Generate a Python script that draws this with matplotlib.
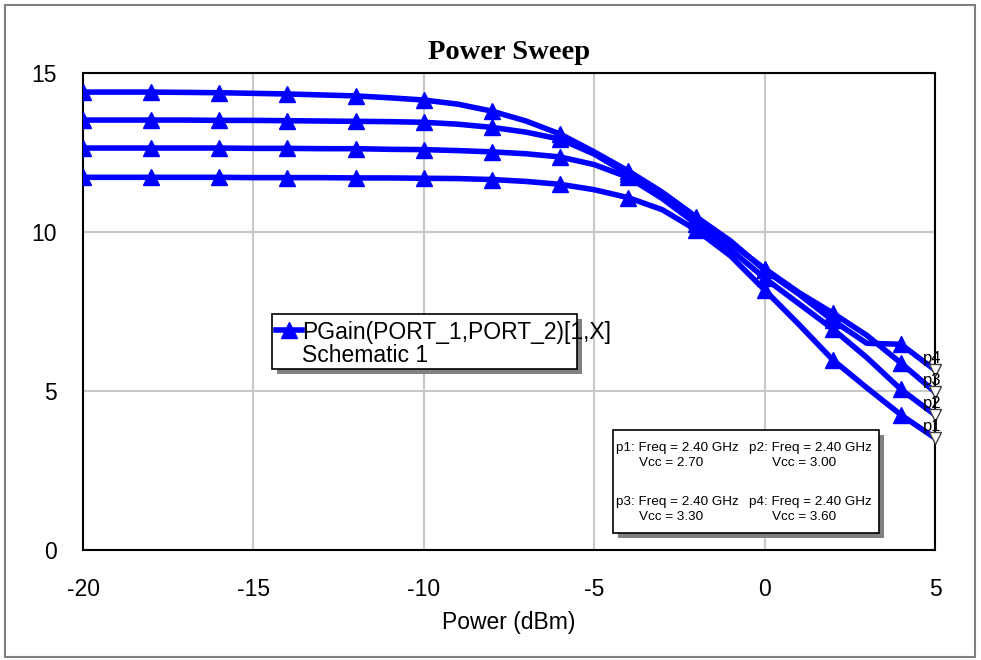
import numpy as np
import matplotlib.pyplot as plt
from matplotlib.patches import Rectangle
from matplotlib.lines import Line2D

plt.rcParams['font.family'] = ['Liberation Sans', 'DejaVu Sans']
plt.rcParams['axes.unicode_minus'] = False

# power sweep, 1 dB steps
power = np.arange(-20, 6)

gain_p1 = [11.72, 11.72, 11.72, 11.72, 11.72, 11.71, 11.71, 11.71, 11.70, 11.70,
           11.69, 11.68, 11.65, 11.59, 11.50, 11.33, 11.08, 10.70, 10.06, 9.25,
           8.18, 7.10, 5.98, 5.10, 4.25, 3.52]
gain_p2 = [12.64, 12.64, 12.64, 12.64, 12.64, 12.63, 12.63, 12.62, 12.62, 12.60,
           12.59, 12.56, 12.52, 12.46, 12.36, 12.12, 11.72, 11.05, 10.25, 9.45,
           8.55, 7.75, 6.95, 6.05, 5.05, 4.25]
gain_p3 = [13.52, 13.52, 13.52, 13.52, 13.51, 13.51, 13.50, 13.49, 13.48, 13.47,
           13.45, 13.39, 13.29, 13.14, 12.92, 12.45, 11.82, 11.15, 10.38, 9.65,
           8.85, 8.10, 7.45, 6.75, 5.88, 4.97]
gain_p4 = [14.40, 14.40, 14.40, 14.39, 14.38, 14.36, 14.34, 14.31, 14.28, 14.22,
           14.15, 14.02, 13.80, 13.49, 13.08, 12.52, 11.92, 11.25, 10.47, 9.72,
           8.80, 8.05, 7.22, 6.50, 6.47, 5.66]

curves = [gain_p1, gain_p2, gain_p3, gain_p4]
curve_names = ['p1', 'p2', 'p3', 'p4']
freq = ['2.40', '2.40', '2.40', '2.40']
vcc = ['2.70', '3.00', '3.30', '3.60']

xticks = [-20, -15, -10, -5, 0, 5]
yticks = [0, 5, 10, 15]

W, H = 981, 660
fig = plt.figure(figsize=(W / 100, H / 100), dpi=100)
fig.patch.set_facecolor('white')


def fx(x):
    return x / W


def fy(y):
    return 1 - y / H


ax = fig.add_axes([fx(83), fy(550), (935 - 83) / W, (550 - 73) / H])

blue = '#0000ff'
for g, name in zip(curves, curve_names):
    ax.plot(power, g, color=blue, lw=4, marker='^', ms=12,
            markevery=slice(0, 25, 2), mec=blue, mfc=blue, zorder=3)
    ax.plot(power[-1], g[-1], marker='v', ms=8, mfc='white', mec='#404040',
            mew=1.0, clip_on=False, zorder=4)
    ax.annotate(name, (power[-1], g[-1]), xytext=(-2, 8), textcoords='offset points',
                ha='center', va='center', fontsize=12, annotation_clip=False, zorder=5)

ax.set_xlim(-20, 5)
ax.set_ylim(0, 15)
ax.set_xticks(xticks)
ax.set_yticks(yticks)
ax.tick_params(length=0, labelsize=16.5)
ax.tick_params(axis='x', pad=20)
ax.tick_params(axis='y', pad=19)
ax.grid(True, color='#c8c8c8', lw=1.5)
ax.set_axisbelow(True)
for s in ax.spines.values():
    s.set_linewidth(1.5)
    s.set_color('black')

ax.set_xlabel('Power (dBm)', fontsize=16.5, labelpad=7)
ax.set_title('Power Sweep', fontsize=20.5, fontweight='bold',
             family=['Liberation Serif', 'DejaVu Serif'], pad=10)


def box(x0, y0, x1, y1, shadow=5):
    fig.add_artist(Rectangle((fx(x0 + shadow), fy(y1 + shadow)), (x1 - x0) / W, (y1 - y0) / H,
                             transform=fig.transFigure, facecolor='#808080',
                             edgecolor='none', zorder=2))
    fig.add_artist(Rectangle((fx(x0), fy(y1)), (x1 - x0) / W, (y1 - y0) / H,
                             transform=fig.transFigure, facecolor='white',
                             edgecolor='black', lw=1.2, zorder=3))


# legend
box(272, 314, 577, 369)
fig.add_artist(Line2D([fx(276), fx(302)], [fy(330), fy(330)], transform=fig.transFigure,
                      color=blue, lw=4, zorder=4))
fig.add_artist(Line2D([fx(289)], [fy(330)], transform=fig.transFigure,
                      color=blue, marker='^', ms=12, zorder=4))
fig.text(fx(302), fy(332), 'PGain(PORT_1,PORT_2)[1,X]', fontsize=16.5,
         va='center', ha='left', zorder=5)
fig.text(fx(302), fy(355), 'Schematic 1', fontsize=16.5, va='center', ha='left', zorder=5)

# sweep parameter box
box(613, 430, 879, 533)
col_x = [616, 749]
row_y = [448, 502]
for i, name in enumerate(curve_names):
    cx = col_x[i % 2]
    cy = row_y[i // 2]
    fig.text(fx(cx), fy(cy), f'{name}: Freq = {freq[i]} GHz', fontsize=9.7,
             va='center', ha='left', zorder=5)
    fig.text(fx(cx + 23), fy(cy + 15), f'Vcc = {vcc[i]}', fontsize=9.7,
             va='center', ha='left', zorder=5)

# outer frame
fig.add_artist(Rectangle((fx(5), fy(657)), (975 - 5) / W, (657 - 5) / H,
                         transform=fig.transFigure, fill=False,
                         edgecolor='#808080', lw=1.5, zorder=1))

fig.savefig('out.png', dpi=100)
